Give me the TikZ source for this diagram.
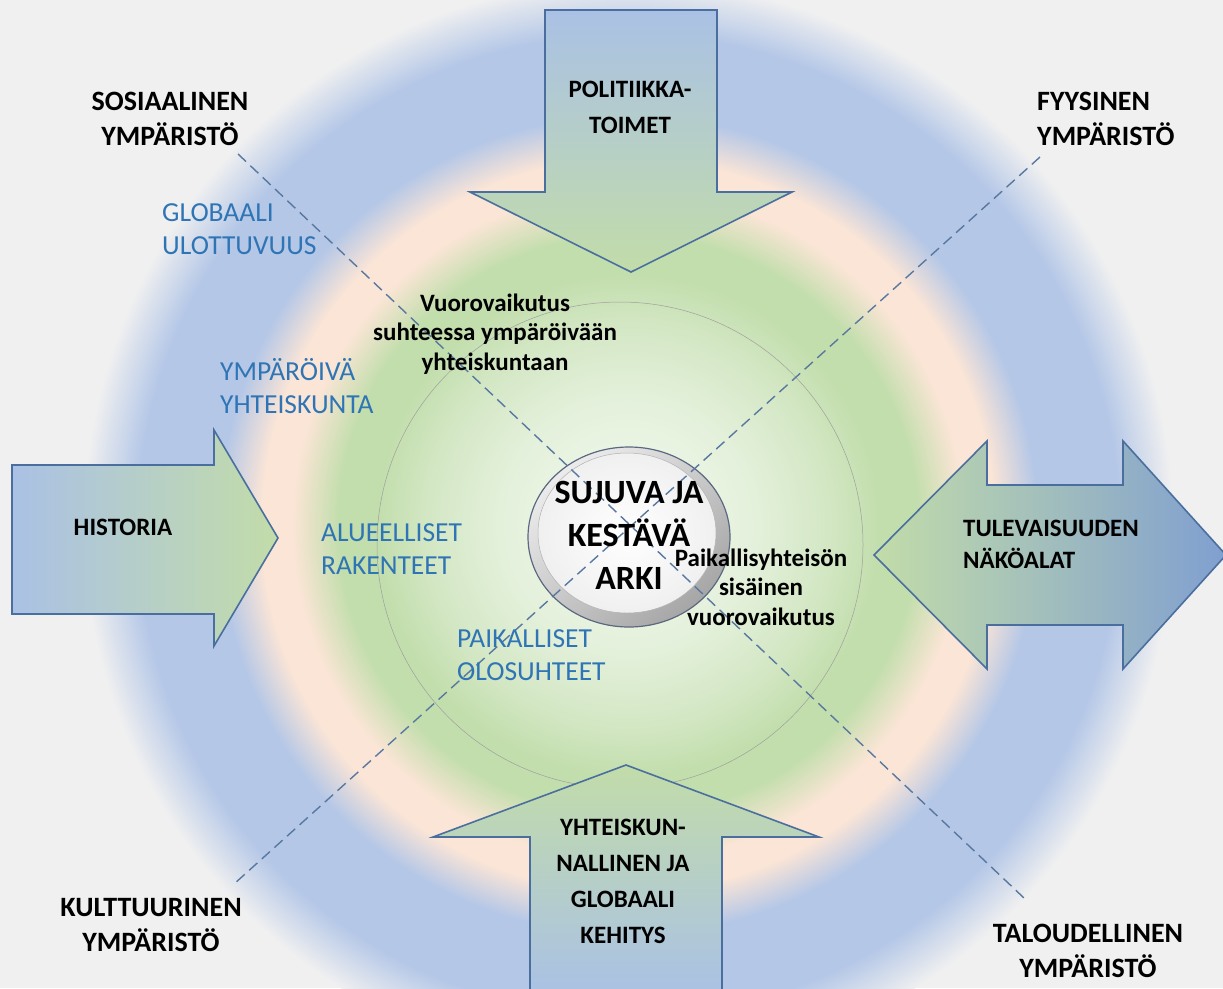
\documentclass[tikz,border=0pt]{standalone}
\usepackage{fontspec}
\setmainfont{Carlito}
\definecolor{bggray}{HTML}{F0F0F0}
\definecolor{ringblue}{HTML}{B4C7E7}
\definecolor{ringpeach}{HTML}{FBE5D6}
\definecolor{ringgreen}{HTML}{C3DEAD}
\definecolor{ringmid}{HTML}{D3E7C4}
\definecolor{ringpale}{HTML}{E3F0DA}
\definecolor{ringcore}{HTML}{F5FAF1}
\definecolor{arrowblue}{HTML}{AAC1E5}
\definecolor{arrowgreen}{HTML}{C2DCA9}
\definecolor{arrowdeep}{HTML}{809FD0}
\definecolor{arrowedge}{HTML}{4A6F9E}
\definecolor{labelblue}{HTML}{2F75B5}
\definecolor{dashblue}{HTML}{5878A0}
\definecolor{coreedge}{HTML}{5A6880}
\pgfdeclareradialshading{ringshade}{\pgfpointorigin}{color(0bp)=(ringcore); color(6bp)=(ringpale); color(9.2bp)=(ringmid); color(11.5bp)=(ringgreen); color(13.3bp)=(ringgreen); color(15.4bp)=(ringpeach); color(16.8bp)=(ringpeach); color(18.8bp)=(ringblue); color(22.5bp)=(ringblue); color(25bp)=(bggray); color(50bp)=(bggray)}

\begin{document}
\begin{tikzpicture}[x=1pt,y=-1pt,
  arrowbox/.style={draw=arrowedge,line width=1.6pt,line join=miter},
  dashline/.style={dashblue,line width=1.4pt,dash pattern=on 11pt off 6pt},
  biglabel/.style={font=\fontsize{28}{35}\selectfont\bfseries,inner sep=0pt,align=center},
  arrowlabel/.style={font=\fontsize{25}{36}\selectfont\bfseries,inner sep=0pt,align=center},
  ringlabel/.style={font=\fontsize{27.5}{33}\selectfont,text=labelblue,inner sep=0pt,align=left,anchor=west},
  talklabel/.style={font=\fontsize{25}{29.5}\selectfont\bfseries,inner sep=0pt,align=center}]
  \useasboundingbox (0,0) rectangle (1223,988);
  \fill[bggray] (0,0) rectangle (1223,988);
  \begin{scope}
    \clip (0,0) rectangle (1223,988);
    \shade[shading=ringshade] (628,525) circle [radius=545pt];
  \end{scope}
  \draw[gray!75,line width=0.5pt] (620,545) circle [radius=243pt];

  \draw[arrowbox,top color=arrowblue,bottom color=arrowgreen] (545,10) -- (717,10) -- (717,192) -- (792,192) -- (631,272) -- (470,192) -- (545,192) -- cycle;
  \draw[arrowbox,top color=arrowgreen,bottom color=arrowblue] (626,765) -- (819,837) -- (722,837) -- (722,995) -- (530,995) -- (530,837) -- (433,837) -- cycle;
  \draw[arrowbox,left color=arrowblue,right color=arrowgreen] (12,465) -- (214,465) -- (214,430) -- (278,538) -- (214,646) -- (214,614) -- (12,614) -- cycle;
  \draw[arrowbox,left color=arrowgreen,right color=arrowdeep] (874,555) -- (987,441) -- (987,485) -- (1123,485) -- (1123,441) -- (1226,555) -- (1123,669) -- (1123,625) -- (987,625) -- (987,669) -- cycle;

  \draw[coreedge,line width=1.2pt,top color=gray!15,bottom color=gray!70,shading angle=40] (629,537) ellipse [x radius=101pt,y radius=90pt];
  \shade[inner color=white,outer color=gray!12] (627,533) ellipse [x radius=89pt,y radius=80pt];
  \draw[gray!60,line width=0.5pt] (627,533) ellipse [x radius=89pt,y radius=80pt];

  \coordinate (sosend) at (238,154);
  \coordinate (talend) at (1024,898);
  \coordinate (fyysend) at (1040,157);
  \coordinate (kulend) at (234,884);
  \draw[dashline] (sosend) -- (talend);
  \draw[dashline] (fyysend) -- (kulend);

  \node[biglabel] (sosiaalinen) at (170,119) {SOSIAALINEN\\YMPÄRISTÖ};
  \node[biglabel,align=left,anchor=west] (fyysinen) at (1037,119) {FYYSINEN\\YMPÄRISTÖ};
  \node[biglabel] (kulttuurinen) at (151,925) {KULTTUURINEN\\YMPÄRISTÖ};
  \node[biglabel] (taloudellinen) at (1088,951) {TALOUDELLINEN\\YMPÄRISTÖ};
  \node[arrowlabel] (politiikka) at (630,107) {POLITIIKKA-\\TOIMET};
  \node[arrowlabel] (historia) at (123,527) {HISTORIA};
  \node[arrowlabel,font=\fontsize{25}{32}\selectfont\bfseries,align=left,anchor=west] (tulevaisuus) at (963,544) {TULEVAISUUDEN\\NÄKÖALAT};
  \node[arrowlabel] (kehitys) at (623,881) {YHTEISKUN-\\NALLINEN JA\\GLOBAALI\\KEHITYS};
  \node[font=\fontsize{34}{43}\selectfont\bfseries,align=center,inner sep=0pt] (arki) at (629,535) {SUJUVA JA\\KESTÄVÄ\\ARKI};
  \node[talklabel] (ymparoiva) at (495,334) {Vuorovaikutus\\suhteessa ympäröivään\\yhteiskuntaan};
  \node[talklabel] (sisainen) at (761,587) {Paikallisyhteisön\\sisäinen\\vuorovaikutus};
  \node[ringlabel] (globaali) at (162,229) {GLOBAALI\\ULOTTUVUUS};
  \node[ringlabel] (yhteiskunta) at (220,386) {YMPÄRÖIVÄ\\YHTEISKUNTA};
  \node[ringlabel] (alueelliset) at (321,549) {ALUEELLISET\\RAKENTEET};
  \node[ringlabel] (paikalliset) at (457,655) {PAIKALLISET\\OLOSUHTEET};
\end{tikzpicture}
\end{document}
